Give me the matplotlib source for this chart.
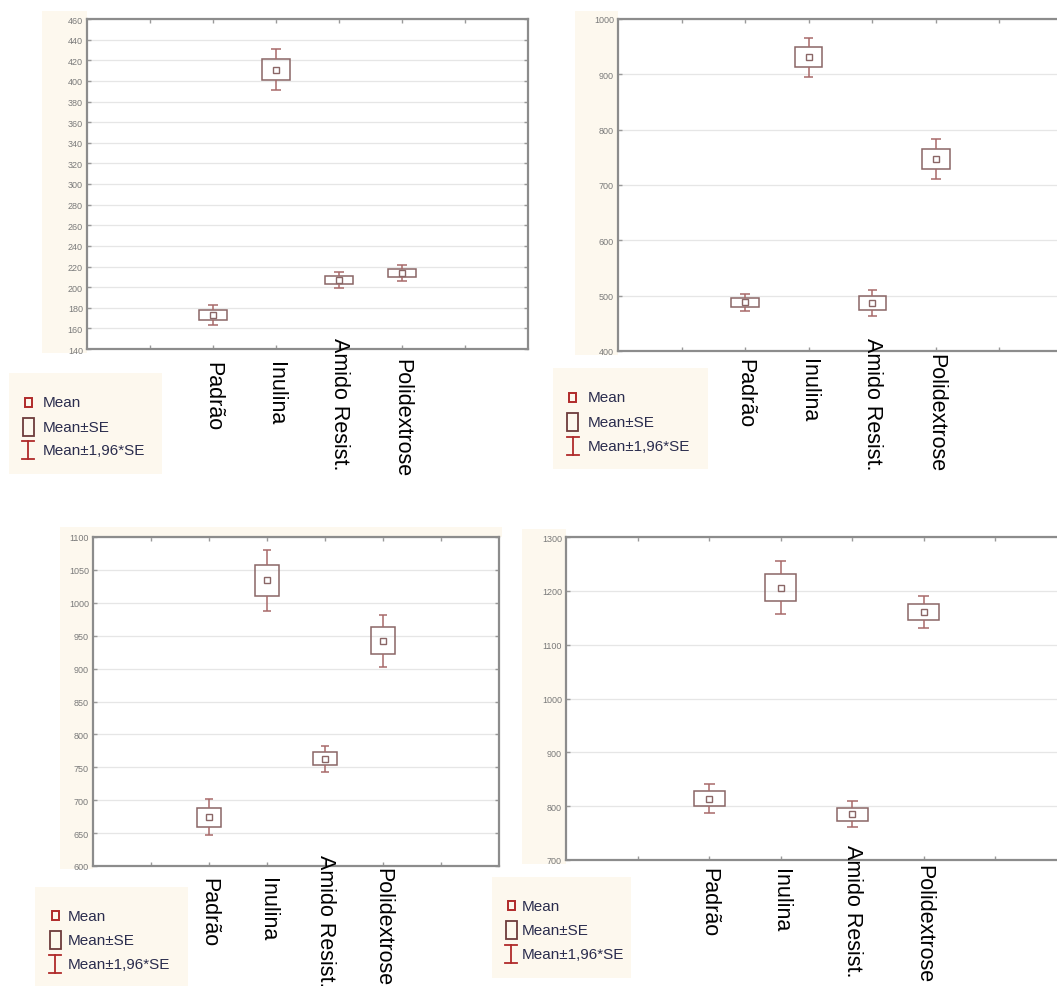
import matplotlib
matplotlib.use("Agg")
import matplotlib.pyplot as plt
from matplotlib.patches import Rectangle
from matplotlib import font_manager
import numpy as np

# ---- data -------------------------------------------------------------
categories = ['Padrão', 'Inulina', 'Amido Resist.', 'Polidextrose']
legend_labels = ['Mean', 'Mean±SE', 'Mean±1,96*SE']

mean_1 = [173, 411, 207, 214]
se_1 = [5, 10, 4, 4]
yticks_1 = [140, 160, 180, 200, 220, 240, 260, 280, 300, 320, 340, 360, 380, 400, 420, 440, 460]

mean_2 = [488, 931, 487, 747]
se_2 = [8, 18, 12, 18]
yticks_2 = [400, 500, 600, 700, 800, 900, 1000]

mean_3 = [674, 1034, 763, 942]
se_3 = [14, 23.5, 10, 20.5]
yticks_3 = [600, 650, 700, 750, 800, 850, 900, 950, 1000, 1050, 1100]

mean_4 = [814, 1206, 785, 1161]
se_4 = [13.5, 25, 12.5, 15]
yticks_4 = [700, 800, 900, 1000, 1100, 1200, 1300]

# ---- styling ----------------------------------------------------------
W, H = 1057, 987
CREAM = '#fdf8ee'
SPINE = '#8c8c8c'
GRID = '#e6e6e6'
BOX = '#8a6666'
WHISK = '#a86a6a'
LEG_RED = '#b02a2a'
LEG_BOX = '#6e3b3b'
LEG_TEXT = '#2b2d4e'

names = {f.name for f in font_manager.fontManager.ttflist}
narrow = 'Liberation Sans Narrow' if 'Liberation Sans Narrow' in names else 'Liberation Sans'

fig = plt.figure(figsize=(W / 100, H / 100), dpi=100)
fig.patch.set_facecolor('white')


def fbox(l, t, r, b):
    return [l / W, 1 - b / H, (r - l) / W, (b - t) / H]


def cream_area(l, t, r, b):
    fig.add_artist(Rectangle((l / W, 1 - b / H), (r - l) / W, (b - t) / H,
                             transform=fig.transFigure, facecolor=CREAM,
                             edgecolor='none', zorder=0))


def panel(rect, creams, means, ses, yticks, label_offsets):
    for c in creams:
        cream_area(*c)
    ax = fig.add_axes(fbox(*rect))
    ax.set_zorder(1)
    ax.set_facecolor('white')
    ax.set_xlim(0, 7)
    ax.set_ylim(yticks[0], yticks[-1])
    ax.set_yticks(yticks)
    ax.set_xticks([1, 2, 3, 4, 5, 6])
    ax.set_xticklabels([])
    ax.set_yticklabels([str(t) for t in yticks], fontsize=6.5, color='#7a7a7a',
                       family=narrow)
    ax.tick_params(axis='both', direction='in', length=3, width=1, color='#9a9a9a',
                   top=True, right=True, pad=3)
    ax.grid(axis='y', color=GRID, lw=0.9)
    ax.set_axisbelow(True)
    for s in ax.spines.values():
        s.set_color(SPINE)
        s.set_linewidth(1.6)

    xs = np.arange(2, 2 + len(means))
    bw = 0.43
    cap = 0.075
    for x, m, se in zip(xs, means, ses):
        ax.add_patch(Rectangle((x - bw / 2, m - se), bw, 2 * se, fill=False,
                               edgecolor=BOX, lw=1.1, zorder=3))
        lo, hi = m - 1.96 * se, m + 1.96 * se
        ax.vlines([x, x], [m + se, lo], [hi, m - se], color=WHISK, lw=1.1, zorder=3)
        ax.hlines([hi, lo], x - cap, x + cap, color=WHISK, lw=1.1, zorder=3)
        ax.plot([x], [m], marker='s', ms=4.2, mfc='none', mec=BOX, mew=1.0, zorder=4)

    # category labels, read top to bottom
    bottom_px = rect[3]
    for x, name, off in zip(xs, categories, label_offsets):
        xp = ax.transData.transform((x, yticks[0]))[0] / W
        yp = 1 - (bottom_px + off) / H
        fig.text(xp, yp, name, rotation=270, ha='center', va='top',
                 fontsize=15.5, family='Liberation Sans', color='black',
                 zorder=5)
    return ax


def legend_box(l, t, r, b, mx, tx, ys):
    lax = fig.add_axes(fbox(l, t, r, b))
    lax.set_xlim(l, r)
    lax.set_ylim(b, t)
    lax.axis('off')
    lax.add_patch(Rectangle((l, t), r - l, b - t, facecolor=CREAM, edgecolor='none'))
    y0, y1, y2 = ys
    lax.add_patch(Rectangle((mx - 3.5, y0 - 4.5), 7, 9, fill=False,
                            edgecolor=LEG_RED, lw=1.4))
    lax.add_patch(Rectangle((mx - 5.5, y1 - 9), 11, 18, fill=False,
                            edgecolor=LEG_BOX, lw=1.3))
    lax.plot([mx, mx], [y2 - 9, y2 + 9], color=LEG_RED, lw=1.3)
    lax.plot([mx - 6, mx + 6], [y2 - 9, y2 - 9], color=LEG_RED, lw=1.3)
    lax.plot([mx - 6, mx + 6], [y2 + 9, y2 + 9], color=LEG_RED, lw=1.3)
    for y, lab in zip(ys, legend_labels):
        lax.text(tx, y, lab, ha='left', va='center', fontsize=11,
                 family=narrow, color=LEG_TEXT)


panel((87, 20, 528, 350), [(42, 12, 87, 354)],
      mean_1, se_1, yticks_1, [12, 12, -12, 9])
panel((618, 20, 1063, 352), [(575, 12, 618, 356)],
      mean_2, se_2, yticks_2, [7, 7, -14, 2])
panel((93, 538, 499, 867), [(60, 528, 93, 870), (60, 528, 502, 538)],
      mean_3, se_3, yticks_3, [11, 11, -12, 1])
panel((566, 538, 1067, 861), [(522, 530, 566, 865)],
      mean_4, se_4, yticks_4, [7, 8, -16, 4])

legend_box(9, 374, 162, 475, 28, 43, (403, 428, 451))
legend_box(553, 369, 708, 470, 573, 588, (398, 423, 447))
legend_box(35, 888, 188, 987, 55, 68, (917, 941, 965))
legend_box(492, 878, 631, 979, 511, 522, (907, 931, 955))

fig.savefig('out.png', dpi=100, facecolor='white')
